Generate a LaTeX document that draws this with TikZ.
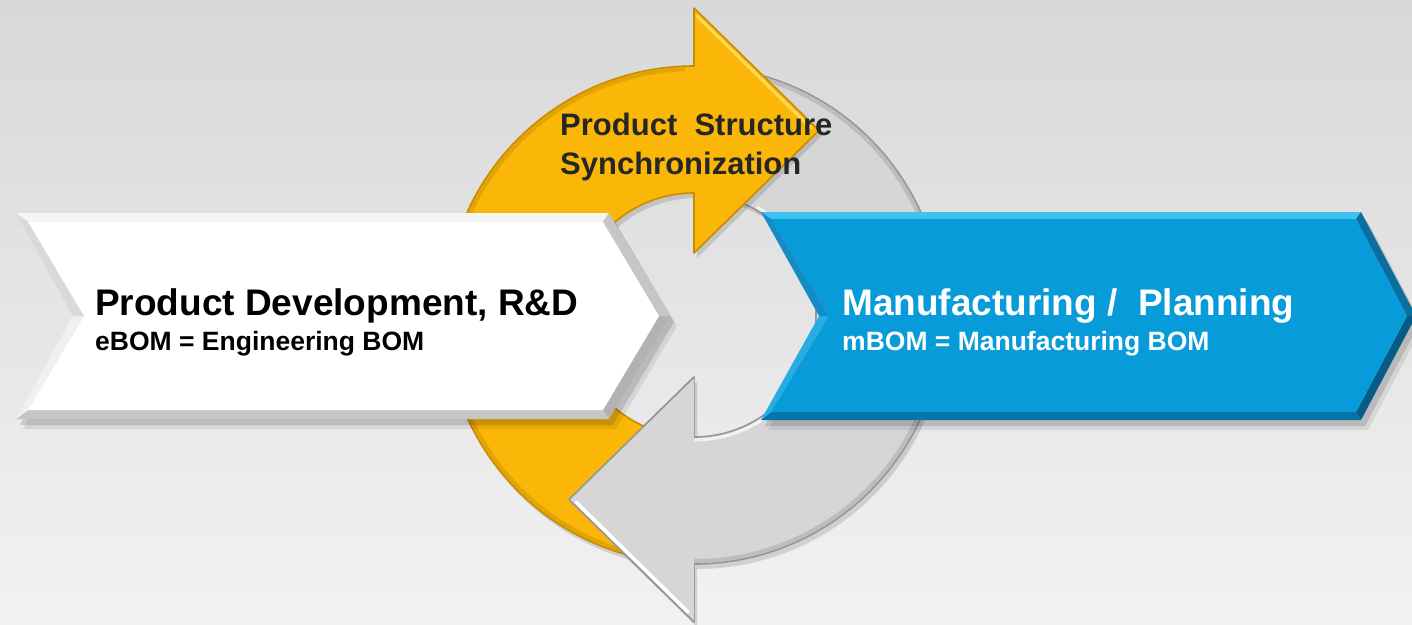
\documentclass[tikz,border=0pt]{standalone}
\usepackage{fontspec}
\setmainfont{Liberation Sans}
\usetikzlibrary{calc}
\definecolor{bgtop}{RGB}{216,216,216}
\definecolor{bgbot}{RGB}{242,242,242}
\definecolor{yel}{RGB}{250,183,8}
\definecolor{yeldark}{RGB}{200,140,0}
\definecolor{yellight}{RGB}{255,214,90}
\definecolor{ringgray}{RGB}{214,214,214}
\definecolor{ringedge}{RGB}{150,150,150}
\definecolor{darktxt}{RGB}{38,38,38}
\definecolor{blu}{RGB}{8,155,217}
\definecolor{blutop}{RGB}{60,195,242}
\definecolor{bluur}{RGB}{10,110,160}
\definecolor{blulr}{RGB}{6,92,135}
\definecolor{blubot}{RGB}{8,115,170}
\definecolor{blull}{RGB}{40,172,228}
\definecolor{bluul}{RGB}{20,140,198}
\begin{document}
\begin{tikzpicture}[x=1pt,y=-1pt,
  txtnode/.style={inner sep=0pt, anchor=base west},
  bigtxt/.style={txtnode, font=\fontsize{37}{40}\selectfont\bfseries},
  smalltxt/.style={txtnode, font=\fontsize{26.5}{30}\selectfont\bfseries},
  midtxt/.style={txtnode, font=\fontsize{31}{36}\selectfont\bfseries, text=darktxt},
  shadowfill/.style={fill=black, opacity=0.13},
  yelarrow/.style={fill=yel, draw=yeldark, line width=1.6pt, line join=round},
  grayarrow/.style={fill=ringgray, draw=ringedge, line width=1.6pt, line join=round},
]
\useasboundingbox (0,0) rectangle (1412,624);
\shade[top color=bgtop, bottom color=bgbot] (0,0) rectangle (1412,624);

\coordinate (C) at (694,315);

% ---- gray cycle arrow (full) ----
\fill[shadowfill] ($(C)+(3,5)+(284:249)$) arc[start angle=284,end angle=450,radius=249]
  -- (697,627) -- (572,504.5) -- (697,382) -- (697,442)
  arc[start angle=450,end angle=284,radius=122] -- cycle;
\path[grayarrow] ($(C)+(284:249)$) arc[start angle=284,end angle=450,radius=249]
  -- (694,622) -- (569,499.5) -- (694,377) -- (694,437)
  arc[start angle=450,end angle=284,radius=122] -- cycle;
\draw[gray!70, line width=4pt, opacity=0.5] ($(C)+(284:246)$) arc[start angle=284,end angle=450,radius=246];
\draw[white, line width=3pt, opacity=0.7] ($(C)+(300:125)$) arc[start angle=300,end angle=450,radius=125];

% ---- yellow cycle arrow (full) ----
\fill[shadowfill] ($(C)+(3,5)+(104:249)$) arc[start angle=104,end angle=270,radius=249]
  -- (697,13) -- (822,135.5) -- (697,258) -- (697,198)
  arc[start angle=270,end angle=104,radius=122] -- cycle;
\path[yelarrow] ($(C)+(104:249)$) arc[start angle=104,end angle=270,radius=249]
  -- (694,8) -- (819,130.5) -- (694,253) -- (694,193)
  arc[start angle=270,end angle=104,radius=122] -- cycle;
\draw[yeldark, line width=4pt, opacity=0.45] ($(C)+(104:246)$) arc[start angle=104,end angle=268,radius=246];
\draw[yellight, line width=3pt, line cap=round] (697,16) -- (811,128);

% ---- gray head again, on top of the yellow tail ----
\fill[ringgray] (694,622) -- (569,499.5) -- (694,377) -- cycle;
\draw[ringedge, line width=1.6pt, line join=round] (694,622) -- (569,499.5) -- (694,377);
\draw[white, line width=3.5pt, line cap=round] (576,502) -- (688,612);

% ---- white chevron ----
\coordinate (wA) at (16,213); \coordinate (wB) at (609,213); \coordinate (wT) at (670,316);
\coordinate (wC) at (609,419); \coordinate (wD) at (16,419); \coordinate (wN) at (73,316);
\coordinate (wa) at (28,222); \coordinate (wb) at (603,222); \coordinate (wt) at (659,316);
\coordinate (wc) at (603,410); \coordinate (wd) at (28,410); \coordinate (wn) at (84,316);
\fill[shadowfill] ($(wA)+(4,6)$) -- ($(wB)+(4,6)$) -- ($(wT)+(4,6)$) -- ($(wC)+(4,6)$) -- ($(wD)+(4,6)$) -- ($(wN)+(4,6)$) -- cycle;
\fill[black, opacity=0.08] ($(wA)+(7,10)$) -- ($(wB)+(7,10)$) -- ($(wT)+(7,10)$) -- ($(wC)+(7,10)$) -- ($(wD)+(7,10)$) -- ($(wN)+(7,10)$) -- cycle;
\fill[gray!8] (wA) -- (wB) -- (wb) -- (wa) -- cycle;
\fill[gray!45] (wB) -- (wT) -- (wt) -- (wb) -- cycle;
\fill[gray!60] (wT) -- (wC) -- (wc) -- (wt) -- cycle;
\fill[gray!45] (wC) -- (wD) -- (wd) -- (wc) -- cycle;
\fill[gray!12] (wD) -- (wN) -- (wn) -- (wd) -- cycle;
\fill[gray!30] (wN) -- (wA) -- (wa) -- (wn) -- cycle;
\fill[white] (wa) -- (wb) -- (wt) -- (wc) -- (wd) -- (wn) -- cycle;

% ---- blue chevron ----
\coordinate (bA) at (761,212); \coordinate (bB) at (1361,212); \coordinate (bT) at (1416,316);
\coordinate (bC) at (1361,420); \coordinate (bD) at (761,420); \coordinate (bN) at (819,316);
\coordinate (ba) at (771,219); \coordinate (bb) at (1356,219); \coordinate (bt) at (1407,316);
\coordinate (bc) at (1356,412); \coordinate (bd) at (771,412); \coordinate (bn) at (829,316);
\fill[shadowfill] ($(bA)+(4,6)$) -- ($(bB)+(4,6)$) -- ($(bT)+(4,6)$) -- ($(bC)+(4,6)$) -- ($(bD)+(4,6)$) -- ($(bN)+(4,6)$) -- cycle;
\fill[black, opacity=0.08] ($(bA)+(7,10)$) -- ($(bB)+(7,10)$) -- ($(bT)+(7,10)$) -- ($(bC)+(7,10)$) -- ($(bD)+(7,10)$) -- ($(bN)+(7,10)$) -- cycle;
\fill[blutop] (bA) -- (bB) -- (bb) -- (ba) -- cycle;
\fill[bluur] (bB) -- (bT) -- (bt) -- (bb) -- cycle;
\fill[blulr] (bT) -- (bC) -- (bc) -- (bt) -- cycle;
\fill[blubot] (bC) -- (bD) -- (bd) -- (bc) -- cycle;
\fill[blull] (bD) -- (bN) -- (bn) -- (bd) -- cycle;
\fill[bluul] (bN) -- (bA) -- (ba) -- (bn) -- cycle;
\fill[blu] (ba) -- (bb) -- (bt) -- (bc) -- (bd) -- (bn) -- cycle;

% ---- texts ----
\node[midtxt] (pss1) at (560,135) {Product~~Structure};
\node[midtxt] (pss2) at (560,174) {Synchronization};
\node[bigtxt, text=black] (pd) at (95,315) {Product Development, R\&D};
\node[smalltxt, text=black] (ebom) at (95,350) {eBOM = Engineering BOM};
\node[bigtxt, text=white] (mp) at (842,315) {Manufacturing /~~Planning};
\node[smalltxt, text=white] (mbom) at (842,350) {mBOM = Manufacturing BOM};
\end{tikzpicture}
\end{document}
